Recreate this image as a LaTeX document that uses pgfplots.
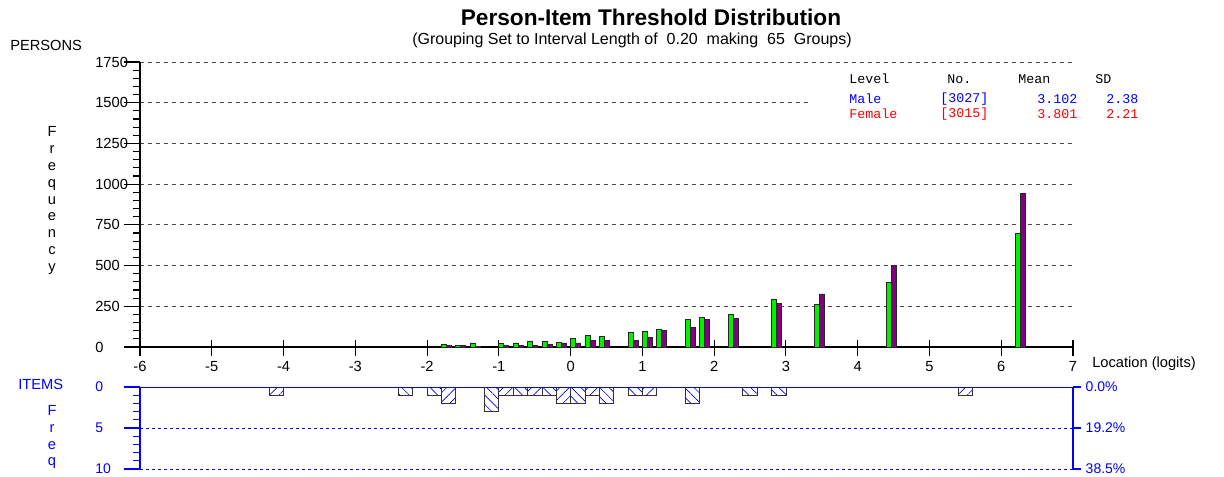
\documentclass[border=0pt]{standalone}
\usepackage{fontspec}
\setmainfont{Liberation Sans}
\setmonofont{Liberation Mono}
\usepackage{pgfplots}
\pgfplotsset{compat=1.18}
\usepackage{pgfplotstable}
\usetikzlibrary{patterns.meta}

\definecolor{malegreen}{RGB}{0,240,0}
\definecolor{femalepurple}{RGB}{128,0,128}
\definecolor{rummblue}{RGB}{0,0,255}

% person groups: x = bar centre, h = frequency
\pgfplotstableread{
x h
-1.765 15
-1.565 12
-1.365 25
-0.965 20
-0.765 25
-0.565 37
-0.365 37
-0.165 30
0.035 55
0.235 70
0.435 63
0.835 90
1.035 96
1.235 109
1.635 170
1.835 183
2.235 201
2.835 295
3.435 262
4.435 397
6.235 695
}\male
\pgfplotstableread{
x h
-1.695 8
-1.495 8
-1.295 3
-0.895 10
-0.695 12
-0.495 12
-0.295 18
-0.095 25
0.105 25
0.305 39
0.505 39
0.905 43
1.105 57
1.305 103
1.705 121
1.905 170
2.305 176
2.905 266
3.505 326
4.505 500
6.305 945
}\female
% item thresholds
\pgfplotstableread{
x n
-4.1 1
-1.7 2
-0.9 1
-0.5 1
-0.1 2
0.3 1
1.1 1
5.5 1
}\itemsA
\pgfplotstableread{
x n
-2.3 1
-1.9 1
-1.1 3
-0.7 1
-0.3 1
0.1 2
0.5 2
0.9 1
1.7 2
2.5 1
2.9 1
}\itemsB

\begin{document}
\begin{tikzpicture}
\path[use as bounding box] (0,0) rectangle (918pt,-357pt);
\clip (0,0) rectangle (918pt,-357pt);

\begin{axis}[
  at={(105pt,-260.25pt)}, anchor=south west,
  width=699.75pt, height=213.75pt, scale only axis,
  xmin=-6, xmax=7, ymin=0, ymax=1750,
  axis lines*=left, axis line style={line width=1.4pt},
  xtick={-6,...,7}, ytick={0,250,...,1750}, minor y tick num=4,
  tick align=outside, major tick length=12pt, minor tick length=5pt,
  tick style={black, line width=0.8pt},
  xtick style={yshift=5pt},
  xticklabel style={yshift=5pt},
  ymajorgrids, major grid style={black!70, dash pattern=on 3pt off 3pt, line width=0.6pt},
  ticklabel style={font=\fontsize{11}{13}\selectfont},
  yticklabel style={text width=18pt, align=left},
  /pgf/number format/assume math mode=true,
  /pgf/number format/1000 sep={},
]
\addplot[ybar, bar width=0.07, bar shift=0pt, fill=malegreen, draw=black!85, line width=0.6pt] table[x=x, y=h] {\male};
\addplot[ybar, bar width=0.07, bar shift=0pt, fill=femalepurple, draw=black!85, line width=0.6pt] table[x=x, y=h] {\female};
\end{axis}

\begin{axis}[
  at={(105pt,-290.25pt)}, anchor=north west,
  width=699.75pt, height=61.5pt, scale only axis,
  xmin=-6, xmax=7, ymin=0, ymax=10, y dir=reverse,
  axis y line*=left, hide x axis,
  axis line style={rummblue, line width=1.4pt},
  ytick={0,5,10}, minor y tick num=4,
  tick align=outside, major tick length=12pt, minor tick length=5pt,
  tick style={rummblue, line width=0.8pt},
  ymajorgrids, major grid style={rummblue, dash pattern=on 2pt off 2.5pt, line width=0.6pt},
  ticklabel style={font=\fontsize{10.5}{12}\selectfont, text=rummblue},
  yticklabel style={text width=18pt, align=left},
  /pgf/number format/assume math mode=true,
]
\addplot[ybar, bar width=0.2, bar shift=0pt, draw=black!80, line width=0.6pt,
  pattern={Lines[angle=45, distance=5pt, line width=0.5pt]}, pattern color=rummblue] table[x=x, y=n] {\itemsA};
\addplot[ybar, bar width=0.2, bar shift=0pt, draw=black!80, line width=0.6pt,
  pattern={Lines[angle=-45, distance=5pt, line width=0.5pt]}, pattern color=rummblue] table[x=x, y=n] {\itemsB};
\draw[rummblue, line width=1.4pt] (axis cs:-6,0) -- (axis cs:7,0);
\end{axis}

\begin{axis}[
  at={(105pt,-290.25pt)}, anchor=north west,
  width=699.75pt, height=61.5pt, scale only axis,
  xmin=-6, xmax=7, ymin=0, ymax=10, y dir=reverse,
  axis y line*=right, hide x axis,
  axis line style={rummblue, line width=1.4pt},
  ytick={0,5,10}, yticklabels={0.0\%,19.2\%,38.5\%},
  tick align=outside, major tick length=6pt,
  tick style={rummblue, line width=0.8pt},
  ticklabel style={font=\fontsize{10.5}{12}\selectfont, text=rummblue},
]
\end{axis}

% legend panel (hides the 1500 grid line behind it)
\fill[white] (607.5pt,-51pt) rectangle (805pt,-93pt);
\begin{scope}[every node/.style={anchor=west, inner sep=0pt, font=\ttfamily\fontsize{10}{12}\selectfont}]
\node at (636.75pt,-59.25pt) {Level};
\node at (710.25pt,-59.25pt) {No.};
\node at (763.5pt,-59.25pt) {Mean};
\node at (821.25pt,-59.25pt) {SD};
\node[text=rummblue] at (636.75pt,-74.25pt) {Male};
\node[text=rummblue] at (705pt,-74.25pt) {[3027]};
\node[text=rummblue] at (777.75pt,-74.25pt) {3.102};
\node[text=rummblue] at (829.5pt,-74.25pt) {2.38};
\node[text=red] at (636.75pt,-85.5pt) {Female};
\node[text=red] at (705pt,-85.5pt) {[3015]};
\node[text=red] at (777.75pt,-85.5pt) {3.801};
\node[text=red] at (829.5pt,-85.5pt) {2.21};
\end{scope}

\node[font=\bfseries\fontsize{17}{20}\selectfont] at (488.25pt,-12.75pt) {Person-Item Threshold Distribution};
\node[font=\fontsize{12}{14}\selectfont] at (474pt,-30pt) {(Grouping Set to Interval Length of\ \ 0.20\ \ making\ \ 65\ \ Groups)};
\node[anchor=west, inner sep=0pt, font=\fontsize{11}{13}\selectfont] at (7.5pt,-33.75pt) {PERSONS};
\node[align=center, inner sep=0pt, font=\fontsize{11}{12.7}\selectfont] at (39pt,-150.4pt) {F\\r\\e\\q\\u\\e\\n\\c\\y};
\node[anchor=west, inner sep=0pt, font=\fontsize{11}{13}\selectfont] at (819pt,-273pt) {Location (logits)};
\node[anchor=west, inner sep=0pt, text=rummblue, font=\fontsize{11}{13}\selectfont] at (13.5pt,-288pt) {ITEMS};
\node[anchor=north, align=center, inner sep=0pt, text=rummblue, font=\fontsize{11}{12.5}\selectfont] at (39pt,-304pt) {F\\r\\e\\q};
\end{tikzpicture}
\end{document}
